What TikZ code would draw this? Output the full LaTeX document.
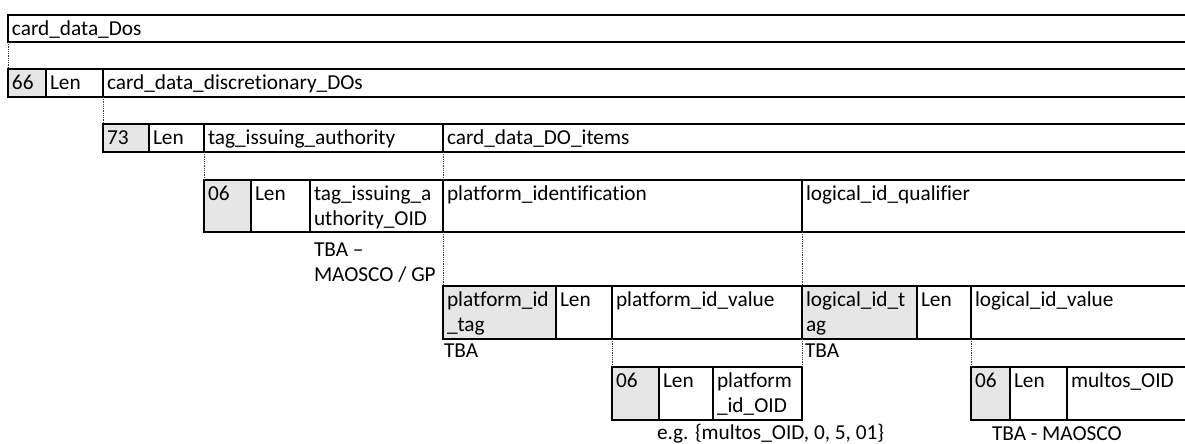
\documentclass[tikz,border=0pt]{standalone}
\usepackage{fontspec}
\setmainfont{Carlito}[Ligatures=NoCommon]
\definecolor{cellgray}{RGB}{231,230,230}
\newcommand\cellfont{\fontsize{21.3}{25.5}\selectfont}
\newcommand\Ln{\strut}
\tikzset{
  cellbox/.style={draw=black, line width=1.8pt, anchor=north west, inner sep=0pt, outer sep=0pt},
  tagcell/.style={fill=cellgray},
  plain/.style={},
  txt/.style={anchor=north west, inner sep=0pt, outer sep=0pt, align=left, font=\cellfont, text=black},
  conn/.style={densely dotted, line width=0.8pt, draw=black!75}
}
% name, x1, y1, x2, y2, style, text
\newcommand\cell[7]{%
  \node[cellbox,#6,minimum width={(#4-#2)*1pt},minimum height={(#5-#3)*1pt}] (#1) at (#2,#3) {};
  \node[txt] (#1-t) at ([shift={(4,2.6)}]#1.north west) {#7};
}
\begin{document}
\begin{tikzpicture}[x=1pt,y=-1pt]
\useasboundingbox (0,0) rectangle (1185,444);
\clip (0,0) rectangle (1185,444);
% row 1
\cell{dos}{8}{15}{1195}{42}{plain}{\Ln card\_data\_Dos}
% row 2
\cell{c66}{8}{69}{46}{97}{tagcell}{\Ln 66}
\cell{c66len}{46}{69}{103}{97}{plain}{\Ln Len}
\cell{cdd}{103}{69}{1195}{97}{plain}{\Ln card\_data\_discretionary\_DOs}
% row 3
\cell{c73}{103}{124}{149}{152}{tagcell}{\Ln 73}
\cell{c73len}{149}{124}{204}{152}{plain}{\Ln Len}
\cell{tia}{204}{124}{443}{152}{plain}{\Ln tag\_issuing\_authority}
\cell{cdi}{443}{124}{1195}{152}{plain}{\Ln card\_data\_DO\_items}
% row 4
\cell{c06a}{204}{180}{251}{232}{tagcell}{\Ln 06}
\cell{c06alen}{251}{180}{310}{232}{plain}{\Ln Len}
\cell{tiaoid}{310}{180}{443}{232}{plain}{\Ln tag\_issuing\_a\\\Ln uthority\_OID}
\cell{pid}{443}{180}{802}{232}{plain}{\Ln platform\_identification}
\cell{liq}{802}{180}{1195}{232}{plain}{\Ln logical\_id\_qualifier}
% row 5
\cell{ptag}{443}{286}{556}{339}{tagcell}{\Ln platform\_id\\\Ln \_tag}
\cell{plen}{556}{286}{612}{339}{plain}{\Ln Len}
\cell{pval}{612}{286}{802}{339}{plain}{\Ln platform\_id\_value}
\cell{ltag}{802}{286}{917}{339}{tagcell}{\Ln logical\_id\_t\\\Ln ag}
\cell{llen}{917}{286}{971}{339}{plain}{\Ln Len}
\cell{lval}{971}{286}{1195}{339}{plain}{\Ln logical\_id\_value}
% row 6
\cell{c06b}{612}{367}{659}{420}{tagcell}{\Ln 06}
\cell{c06blen}{659}{367}{713}{420}{plain}{\Ln Len}
\cell{poid}{713}{367}{802}{420}{plain}{\Ln platform\\\Ln \_id\_OID}
\cell{c06c}{971}{367}{1010}{420}{tagcell}{\Ln 06}
\cell{c06clen}{1010}{367}{1067}{420}{plain}{\Ln Len}
\cell{moid}{1067}{367}{1195}{420}{plain}{\Ln multos\_OID}
% dotted connectors
\draw[conn] (dos.south west) -- (c66.north west);
\draw[conn] (cdd.south west) -- (c73.north west);
\draw[conn] (tia.south west) -- (c06a.north west);
\draw[conn] (cdi.south west) -- (pid.north west);
\draw[conn] (pid.south west) -- (ptag.north west);
\draw[conn] (liq.south west) -- (ltag.north west);
\draw[conn] (pval.south west) -- (c06b.north west);
\draw[conn] (pval.south east) -- (poid.north east);
\draw[conn] (lval.south west) -- (c06c.north west);
% notes
\node[txt] (n1) at (314,238.5) {\Ln TBA \textendash\\\Ln MAOSCO / GP};
\node[txt] (n2) at (444,339.5) {\Ln TBA};
\node[txt] (n3) at (805,339.5) {\Ln TBA};
\node[txt] (n4) at (657,421.5) {\Ln e.g. \{multos\_OID, 0, 5, 01\}};
\node[txt] (n5) at (992,422.5) {\Ln TBA - MAOSCO};
\end{tikzpicture}
\end{document}
